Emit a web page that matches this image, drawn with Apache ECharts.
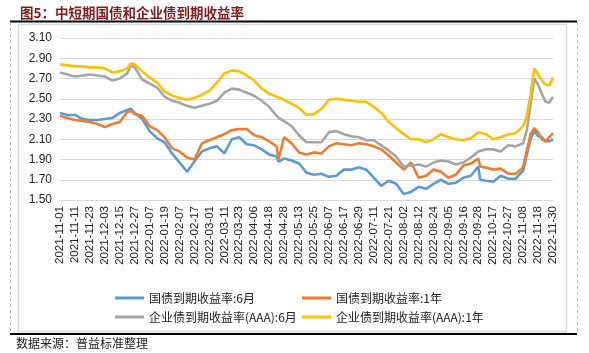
<!DOCTYPE html>
<html><head><meta charset="utf-8">
<script src="https://cdn.jsdelivr.net/npm/echarts@6/dist/echarts.min.js"></script>
<style>html,body{margin:0;padding:0;background:#fff;}#c{width:589px;height:353px;}</style>
</head><body><div id="c"></div>
<script>
// Trading-day categories (weekdays excluding exchange holidays)
const START_DATE = '2021-11-01';
const END_DATE = '2022-11-30';
const HOLIDAYS = ['2022-01-03','2022-01-31','2022-02-01','2022-02-02','2022-02-03','2022-02-04',
  '2022-04-04','2022-04-05','2022-05-02','2022-05-03','2022-05-04','2022-06-03','2022-09-12',
  '2022-10-03','2022-10-04','2022-10-05','2022-10-06','2022-10-07'];
const SERIES_NAMES = ['国债到期收益率:6月','国债到期收益率:1年','企业债到期收益率(AAA):6月','企业债到期收益率(AAA):1年'];
const Y_TICKS = [1.5, 1.7, 1.9, 2.1, 2.3, 2.5, 2.7, 2.9, 3.1];

// Sampled trading-day positions (index into categories) and readings
const SAMPLE_IDX = [0,4,8,12,16,20,24,28,32,36,38,40,44,48,52,56,60,64,68,72,76,80,84,88,92,96,100,104,108,112,116,117,120,124,128,132,136,140,144,148,152,156,160,164,168,172,176,180,184,188,192,196,200,204,208,212,216,220,224,225,228,232,236,240,244,248,250,252,254,256,258,260,262,264];
const GOV_6M = [2.36,2.34,2.34,2.30,2.29,2.29,2.30,2.31,2.36,2.39,2.40,2.36,2.30,2.18,2.11,2.07,1.96,1.87,1.78,1.88,1.98,2.01,2.03,1.96,2.10,2.12,2.05,2.04,2.00,1.95,1.93,1.88,1.91,1.89,1.86,1.77,1.75,1.76,1.73,1.74,1.80,1.80,1.82,1.80,1.72,1.64,1.69,1.66,1.56,1.58,1.63,1.61,1.66,1.70,1.66,1.67,1.72,1.74,1.83,1.70,1.69,1.68,1.74,1.71,1.71,1.79,1.95,2.10,2.19,2.13,2.12,2.08,2.08,2.10];
const GOV_1Y = [2.33,2.31,2.29,2.28,2.27,2.25,2.22,2.25,2.27,2.37,2.38,2.35,2.33,2.23,2.19,2.12,2.01,1.98,1.92,1.90,2.06,2.09,2.12,2.15,2.19,2.20,2.20,2.14,2.12,2.08,2.03,1.90,2.12,2.06,1.97,1.95,1.97,1.96,2.03,2.06,2.05,2.04,2.06,2.05,2.03,2.00,1.94,1.87,1.80,1.87,1.72,1.74,1.80,1.78,1.72,1.75,1.84,1.86,1.91,1.83,1.82,1.80,1.81,1.76,1.76,1.82,1.99,2.15,2.21,2.17,2.10,2.08,2.12,2.16];
const CORP_6M = [2.76,2.74,2.72,2.73,2.74,2.73,2.72,2.68,2.70,2.75,2.83,2.81,2.69,2.65,2.61,2.52,2.48,2.46,2.43,2.41,2.43,2.45,2.48,2.56,2.60,2.59,2.56,2.53,2.48,2.42,2.33,2.31,2.28,2.23,2.14,2.07,2.07,2.07,2.17,2.18,2.15,2.13,2.12,2.09,2.09,2.04,1.99,1.93,1.83,1.84,1.85,1.83,1.87,1.89,1.88,1.85,1.87,1.92,1.98,1.99,2.00,2.00,1.98,2.04,2.03,2.06,2.19,2.45,2.70,2.64,2.55,2.47,2.46,2.52];
const CORP_1Y = [2.84,2.83,2.82,2.82,2.81,2.81,2.80,2.76,2.77,2.80,2.85,2.84,2.77,2.71,2.66,2.57,2.53,2.51,2.49,2.51,2.54,2.58,2.66,2.75,2.78,2.77,2.73,2.68,2.60,2.55,2.52,2.51,2.49,2.45,2.41,2.34,2.35,2.40,2.49,2.50,2.49,2.48,2.47,2.47,2.42,2.36,2.27,2.21,2.15,2.10,2.10,2.07,2.10,2.15,2.12,2.10,2.09,2.11,2.17,2.17,2.15,2.10,2.12,2.15,2.16,2.23,2.33,2.55,2.80,2.74,2.68,2.64,2.63,2.71];

function pad(n){return (n<10?'0':'')+n;}
function buildDates(){
  const out=[]; const d=new Date(START_DATE+'T00:00:00Z'); const end=new Date(END_DATE+'T00:00:00Z');
  while(d<=end){
    const s=d.getUTCFullYear()+'-'+pad(d.getUTCMonth()+1)+'-'+pad(d.getUTCDate());
    const wd=d.getUTCDay();
    if(wd!==0&&wd!==6&&HOLIDAYS.indexOf(s)<0) out.push(s);
    d.setUTCDate(d.getUTCDate()+1);
  }
  return out;
}
const CATEGORIES = buildDates();
function pairs(vals){return SAMPLE_IDX.map((ix,k)=>[ix, vals[k]]);}

const COLORS = ['#5B9BD5','#ED7D31','#A5A5A5','#FFC000'];
const VALUES = [GOV_6M, GOV_1Y, CORP_6M, CORP_1Y];

const chart = echarts.init(document.getElementById('c'), null, {renderer:'canvas'});
const legendText = {fontSize:12, color:'#222', fontFamily:'"Noto Sans CJK SC", sans-serif'};
chart.setOption({
  animation:false,
  color: COLORS,
  title:{text:'图5：中短期国债和企业债到期收益率', left:15, top:1,
    textStyle:{fontSize:13.5, fontWeight:'bold', color:'#7f1d1d', fontFamily:'"Noto Sans CJK SC", sans-serif'}},
  grid:{left:60, right:36, top:38, bottom:153},
  legend:[
    {left:110, top:287, orient:'vertical', itemGap:7, icon:'rect', itemWidth:29, itemHeight:3,
     data:[SERIES_NAMES[0], SERIES_NAMES[2]], textStyle:legendText},
    {left:297, top:287, orient:'vertical', itemGap:7, icon:'rect', itemWidth:29, itemHeight:3,
     data:[SERIES_NAMES[1], SERIES_NAMES[3]], textStyle:legendText}
  ],
  xAxis:{type:'category', data:CATEGORIES, boundaryGap:false,
    axisLine:{show:true, lineStyle:{color:'#d9d9d9'}}, axisTick:{show:false},
    axisLabel:{interval:7, rotate:90, fontSize:11.5, color:'#222', margin:6, fontFamily:'"Liberation Sans", Arial, sans-serif'},
    splitLine:{show:false}},
  yAxis:{type:'value', min:Y_TICKS[0], max:Y_TICKS[Y_TICKS.length-1], interval:0.2,
    axisLine:{show:false}, axisTick:{show:false},
    axisLabel:{fontSize:12, color:'#222', margin:8, fontFamily:'"Liberation Sans", Arial, sans-serif',
      formatter:v=>v.toFixed(2)},
    splitLine:{lineStyle:{color:'#d9d9d9', width:1}}},
  series: VALUES.map((v,k)=>({name:SERIES_NAMES[k], type:'line', data:pairs(v), showSymbol:false,
    symbol:'none', lineStyle:{width:2.6, color:COLORS[k]}, itemStyle:{color:COLORS[k]}})),
  graphic:[
    {type:'line', shape:{x1:10,y1:21.5,x2:577,y2:21.5}, style:{stroke:'#000', lineWidth:2}},
    {type:'line', shape:{x1:10,y1:334,x2:577,y2:334}, style:{stroke:'#000', lineWidth:2}},
    {type:'line', shape:{x1:10.5,y1:22,x2:10.5,y2:333}, style:{stroke:'#bbb', lineWidth:1, lineDash:[3,3]}},
    {type:'line', shape:{x1:577.5,y1:22,x2:577.5,y2:333}, style:{stroke:'#bbb', lineWidth:1, lineDash:[3,3]}},
    {type:'rect', shape:{x:18.5,y:24.5,width:548,height:307}, style:{fill:'none', stroke:'#d9d9d9', lineWidth:1.5}, z:-1},
    {type:'text', left:16, top:337, style:{text:'数据来源：普益标准整理', fontSize:12, fill:'#222', fontFamily:'"Noto Sans CJK SC", sans-serif'}}
  ]
});
</script></body></html>
